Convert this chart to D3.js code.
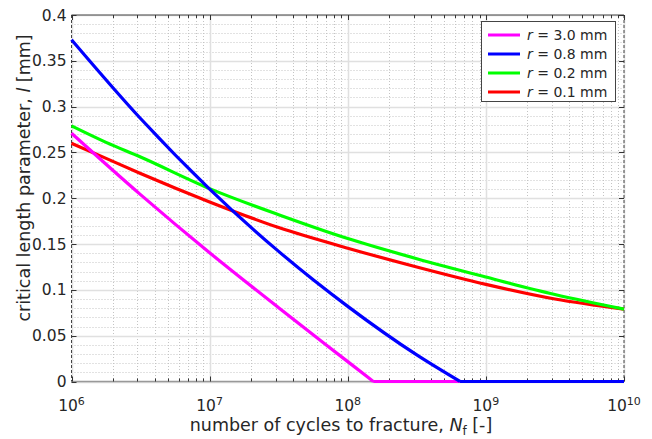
<!DOCTYPE html>
<html>
<head>
<meta charset="utf-8">
<script src="https://cdn.jsdelivr.net/npm/d3@7"></script>
<style>
  html, body { margin: 0; padding: 0; background: #fff; }
  svg text { font-family: "DejaVu Sans", Verdana, sans-serif; fill: #262626; }
</style>
</head>
<body>
<svg id="chart" width="652" height="439"></svg>
<script>
// ---- data ----
const seriesLabels = ["3.0", "0.8", "0.2", "0.1"];
const seriesColors = ["#ff00ff", "#0000ff", "#00ff00", "#ff0000"];

const nMagenta = [1e6, 3.16e6, 1e7, 3.16e7, 1e8, 1.53e8, 1e10];
const lMagenta = [0.271, 0.204, 0.1405, 0.0805, 0.0217, 0, 0];

const nBlue = [1e6, 3.16e6, 1e7, 3.16e7, 1e8, 3.16e8, 6.5e8, 1e10];
const lBlue = [0.373, 0.287, 0.210, 0.142, 0.082, 0.029, 0, 0];

const nGreen = [1e6, 1.78e6, 3.16e6, 1e7, 3.16e7, 1e8, 3.16e8, 1e9, 3.16e9, 1e10];
const lGreen = [0.279, 0.261, 0.245, 0.2105, 0.182, 0.156, 0.134, 0.114, 0.095, 0.079];

const nRed = [1e6, 1.78e6, 3.16e6, 1e7, 3.16e7, 1e8, 3.16e8, 1e9, 3.16e9, 1e10];
const lRed = [0.260, 0.2435, 0.227, 0.196, 0.168, 0.1455, 0.125, 0.106, 0.090, 0.079];

const xTickValues = [1e6, 1e7, 1e8, 1e9, 1e10];
const xTickExponents = ["6", "7", "8", "9", "10"];
const yTickValues = [0, 0.05, 0.1, 0.15, 0.2, 0.25, 0.3, 0.35, 0.4];
const yTickLabels = ["0", "0.05", "0.1", "0.15", "0.2", "0.25", "0.3", "0.35", "0.4"];

// ---- layout ----
const svg = d3.select("#chart");
const L = 71.5, R = 624, T = 15, B = 381.5;
const x = d3.scaleLog().domain([1e6, 1e10]).range([L, R]);
const y = d3.scaleLinear().domain([0, 0.4]).range([B, T]);

// minor grid values
const xMinor = [];
for (let e = 6; e < 10; e++) for (let k = 2; k <= 9; k++) xMinor.push(k * Math.pow(10, e));
const yMinor = d3.range(0, 41).map(i => i / 100).filter(v => Math.round(v * 100) % 5 !== 0);

const g = svg.append("g");
// minor grid (dotted)
g.selectAll(".xm").data(xMinor).enter().append("line")
  .attr("x1", d => Math.round(x(d)) + 0.5).attr("x2", d => Math.round(x(d)) + 0.5)
  .attr("y1", T).attr("y2", B)
  .attr("stroke", "#c4c4c4").attr("stroke-width", 1).attr("stroke-dasharray", "1,2");
g.selectAll(".ym").data(yMinor).enter().append("line")
  .attr("x1", L).attr("x2", R)
  .attr("y1", d => Math.round(y(d)) + 0.5).attr("y2", d => Math.round(y(d)) + 0.5)
  .attr("stroke", "#c4c4c4").attr("stroke-width", 1).attr("stroke-dasharray", "1,2");
// major grid (solid light)
g.selectAll(".xM").data(xTickValues).enter().append("line")
  .attr("x1", d => Math.round(x(d)) + 0.5).attr("x2", d => Math.round(x(d)) + 0.5)
  .attr("y1", T).attr("y2", B)
  .attr("stroke", "#e0e0e0").attr("stroke-width", 1.5);
g.selectAll(".yM").data(yTickValues).enter().append("line")
  .attr("x1", L).attr("x2", R)
  .attr("y1", d => Math.round(y(d)) + 0.5).attr("y2", d => Math.round(y(d)) + 0.5)
  .attr("stroke", "#e0e0e0").attr("stroke-width", 1.5);

// frame
g.append("line").attr("x1", L).attr("x2", R).attr("y1", T).attr("y2", T).attr("stroke", "#444").attr("stroke-width", 1);
g.append("line").attr("x1", L).attr("x2", R).attr("y1", B).attr("y2", B).attr("stroke", "#999").attr("stroke-width", 1.5);
g.append("line").attr("x1", L).attr("x2", L).attr("y1", T).attr("y2", B).attr("stroke", "#444").attr("stroke-width", 1).attr("stroke-dasharray", "3,2");
g.append("line").attr("x1", R).attr("x2", R).attr("y1", T).attr("y2", B).attr("stroke", "#444").attr("stroke-width", 1).attr("stroke-dasharray", "3,2");

// ticks inward
const tickG = svg.append("g").attr("stroke", "#333").attr("stroke-width", 1);
yTickValues.forEach(v => {
  const yy = Math.round(y(v)) + 0.5;
  tickG.append("line").attr("x1", L).attr("x2", L + 5).attr("y1", yy).attr("y2", yy);
  tickG.append("line").attr("x1", R - 5).attr("x2", R).attr("y1", yy).attr("y2", yy);
});
xTickValues.concat(xMinor).forEach(v => {
  const xx = Math.round(x(v)) + 0.5;
  const len = xTickValues.includes(v) ? 5 : 3;
  tickG.append("line").attr("x1", xx).attr("x2", xx).attr("y1", T).attr("y2", T + len);
  tickG.append("line").attr("x1", xx).attr("x2", xx).attr("y1", B - len).attr("y2", B);
});

// y tick labels
svg.append("g").selectAll("text").data(yTickValues).enter().append("text")
  .attr("x", L - 5).attr("y", d => y(d) + 5.5)
  .attr("text-anchor", "end").attr("font-size", 15.5)
  .text((d, i) => yTickLabels[i]);

// x tick labels (10^n)
xTickValues.forEach((v, i) => {
  const t = svg.append("text").attr("x", x(v)).attr("y", 411).attr("text-anchor", "middle").attr("font-size", 15.5);
  t.append("tspan").text("10");
  t.append("tspan").attr("dy", -6).attr("font-size", 11).text(xTickExponents[i]);
});

// axis labels
const xl = svg.append("text").attr("x", 341).attr("y", 431).attr("text-anchor", "middle").attr("font-size", 17.5);
xl.append("tspan").text("number of cycles to fracture, ");
xl.append("tspan").attr("font-style", "italic").text("N");
xl.append("tspan").attr("font-size", 12).attr("dy", 4).text("f");
xl.append("tspan").attr("dy", -4).text(" [-]");

const yl = svg.append("text").attr("transform", "translate(30,178) rotate(-90)").attr("text-anchor", "middle").attr("font-size", 17.5);
yl.append("tspan").text("critical length parameter, ");
yl.append("tspan").attr("font-style", "italic").text("l");
yl.append("tspan").text(" [mm]");

// lines: smooth descending part, straight zero part
const smooth = d3.line().x(d => x(d[0])).y(d => y(d[1])).curve(d3.curveMonotoneX);
const straight = d3.line().x(d => x(d[0])).y(d => y(d[1]));
const seriesData = [
  d3.zip(nMagenta, lMagenta),
  d3.zip(nBlue, lBlue),
  d3.zip(nGreen, lGreen),
  d3.zip(nRed, lRed)
];
const drawOrder = [3, 2, 0, 1];
drawOrder.forEach(i => {
  const pts = seriesData[i];
  const k = pts.findIndex(p => p[1] === 0);
  const desc = k >= 0 ? pts.slice(0, k + 1) : pts;
  const flat = k >= 0 ? pts.slice(k) : [];
  svg.append("path").datum(desc)
    .attr("d", smooth).attr("fill", "none")
    .attr("stroke", seriesColors[i]).attr("stroke-width", 3.2)
    .attr("stroke-linejoin", "round");
  if (flat.length > 1) {
    svg.append("path").datum(flat)
      .attr("d", straight).attr("fill", "none")
      .attr("stroke", seriesColors[i]).attr("stroke-width", 3.2);
  }
});

// legend
const lg = svg.append("g");
lg.append("rect").attr("x", 481.5).attr("y", 21.5).attr("width", 134).attr("height", 80)
  .attr("fill", "#fff").attr("stroke", "#444").attr("stroke-width", 1);
seriesLabels.forEach((s, i) => {
  const yy = 35 + i * 19;
  lg.append("line").attr("x1", 488).attr("x2", 520).attr("y1", yy).attr("y2", yy)
    .attr("stroke", seriesColors[i]).attr("stroke-width", 3);
  const t = lg.append("text").attr("x", 527).attr("y", yy + 5).attr("font-size", 14);
  t.append("tspan").attr("font-style", "italic").text("r");
  t.append("tspan").text(" = " + s + " mm");
});
</script>
</body>
</html>
